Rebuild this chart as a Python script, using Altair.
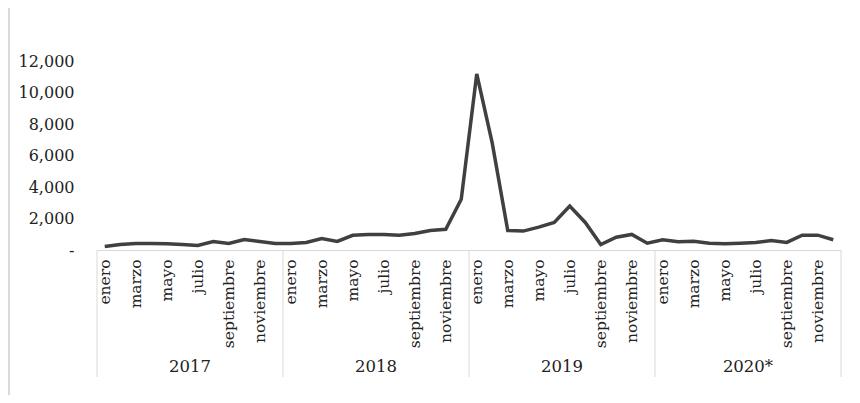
import altair as alt
import pandas as pd

years = ["2017", "2018", "2019", "2020*"]
months = ["enero", "febrero", "marzo", "abril", "mayo", "junio", "julio",
          "agosto", "septiembre", "octubre", "noviembre", "diciembre"]

v2017 = [220, 350, 410, 410, 400, 350, 290, 540, 410, 670, 540, 410]
v2018 = [420, 480, 730, 540, 930, 990, 990, 930, 1050, 1240, 1320, 3220]
v2019 = [11180, 6780, 1240, 1200, 1450, 1750, 2790, 1750, 350, 815, 990, 430]
v2020 = [650, 520, 560, 430, 395, 430, 480, 600, 480, 940, 940, 650]

y_ticks = [0, 2000, 4000, 6000, 8000, 10000, 12000]

series = [v2017, v2018, v2019, v2020]
rows = []
for k, (yr, vals) in enumerate(zip(years, series)):
    for m, v in enumerate(vals):
        idx = k * 12 + m
        rows.append({"pos": idx + 0.5, "mes": months[m], "year": yr, "value": v})
df = pd.DataFrame(rows)

year_df = pd.DataFrame({"pos": [k * 12 + 6 for k in range(len(years))], "year": years})
sep_df = pd.DataFrame({"pos": [k * 12 for k in range(len(years) + 1)]})

FONT = "DejaVu Serif"
W, H = 744, 189
n = len(df)

month_js = "[" + ",".join(f"'{m}'" for m in months) + "]"
xs = alt.Scale(domain=[0, n], nice=False, zero=False)
x_axis = alt.Axis(
    values=[i + 0.5 for i in range(0, n, 2)],
    labelExpr=f"{month_js}[floor(datum.value) % 12]",
    labelAngle=270,
    labelFont=FONT,
    labelFontSize=15.5,
    labelColor="#222222",
    labelPadding=9,
    labelOverlap=False,
    labelFlush=False,
    ticks=False,
    grid=False,
    domainColor="#d9d9d9",
    domainWidth=1,
    title=None,
)

line = alt.Chart(df).mark_line(color="#404040", strokeWidth=3.5).encode(
    x=alt.X("pos:Q", scale=xs, axis=x_axis),
    y=alt.Y(
        "value:Q",
        scale=alt.Scale(domain=[0, 12000], nice=False),
        axis=alt.Axis(
            values=y_ticks,
            labelExpr="datum.value == 0 ? '-' : format(datum.value, ',')",
            labelFont=FONT,
            labelFontSize=16,
            labelColor="#222222",
            labelPadding=23,
            grid=False,
            domain=False,
            ticks=False,
            title=None,
        ),
    ),
)

seps = alt.Chart(sep_df).mark_rule(color="#d9d9d9", strokeWidth=1).encode(
    x=alt.X("pos:Q", scale=xs, axis=x_axis),
    y=alt.value(H),
    y2=alt.value(H + 127),
)

year_text = alt.Chart(year_df).mark_text(
    font=FONT, fontSize=16.5, color="#222222", baseline="middle", align="center"
).encode(
    x=alt.X("pos:Q", scale=xs, axis=x_axis),
    y=alt.value(H + 117),
    text="year:N",
)

border = alt.Chart(sep_df).mark_rule(color="#d9d9d9", strokeWidth=2).encode(
    x=alt.value(-88),
    y=alt.value(-53),
    y2=alt.value(H + 145),
)

chart = alt.layer(border, seps, line, year_text).properties(
    width=W,
    height=H,
    padding={"left": 89, "top": 53, "right": 11, "bottom": 145},
    autosize=alt.AutoSizeParams(type="none"),
).configure_view(stroke=None)

chart.save("out.html", embed_options={"renderer": "svg", "actions": False})
